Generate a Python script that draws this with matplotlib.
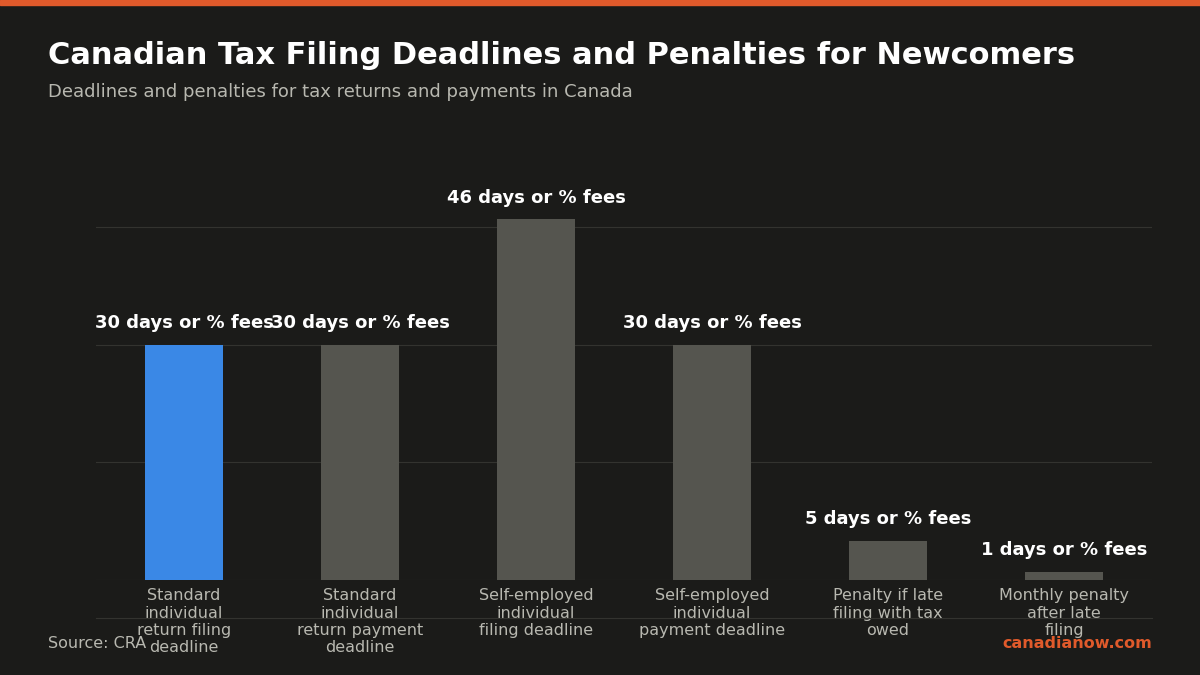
import matplotlib.pyplot as plt
from matplotlib.lines import Line2D
from matplotlib.patches import Rectangle

categories = [
    "Standard\nindividual\nreturn filing\ndeadline",
    "Standard\nindividual\nreturn payment\ndeadline",
    "Self-employed\nindividual\nfiling deadline",
    "Self-employed\nindividual\npayment deadline",
    "Penalty if late\nfiling with tax\nowed",
    "Monthly penalty\nafter late\nfiling",
]
values = [30, 30, 46, 30, 5, 1]
bar_labels = [f"{v} days or % fees" for v in values]

BG = "#1b1b19"
fig = plt.figure(figsize=(12, 6.75), dpi=100, facecolor=BG)
ax = fig.add_axes([0.08, 0.141, 0.88, 0.65], facecolor=BG)

colors = ["#3a88e6"] + ["#55554f"] * (len(values) - 1)
ax.bar(range(len(values)), values, width=0.44, color=colors, zorder=2)
for i, (v, t) in enumerate(zip(values, bar_labels)):
    ax.text(i, v + 1.6, t, ha="center", va="bottom", color="white",
            fontsize=13, fontweight="bold", zorder=3)

ax.set_xlim(-0.5, 5.5)
ax.set_ylim(0, 56)
ax.set_yticks([0, 15, 30, 45])
ax.yaxis.grid(True, color="#33332f", linewidth=0.8, zorder=0)
ax.tick_params(axis="y", length=0, labelleft=False)
ax.tick_params(axis="x", length=0, pad=6)
ax.set_xticks(range(len(values)))
ax.set_xticklabels(categories, color="#b8b8b0", fontsize=11.5, linespacing=1.2)
for s in ax.spines.values():
    s.set_visible(False)

fig.add_artist(Rectangle((0, 1 - 5 / 675), 1, 5 / 675, transform=fig.transFigure,
                         color="#e05a2b"))
fig.add_artist(Line2D([0.08, 0.96], [1 - 618 / 675] * 2, transform=fig.transFigure,
                      color="#33332f", linewidth=0.8))
fig.text(0.04, 1 - 56 / 675, "Canadian Tax Filing Deadlines and Penalties for Newcomers",
         color="white", fontsize=22, fontweight="bold", va="center")
fig.text(0.04, 1 - 92 / 675, "Deadlines and penalties for tax returns and payments in Canada",
         color="#b8b8b0", fontsize=13, va="center")
fig.text(0.04, 1 - 644 / 675, "Source: CRA", color="#b8b8b0", fontsize=11.5, va="center")
fig.text(0.96, 1 - 644 / 675, "canadianow.com", color="#e05a2b", fontsize=11.5,
         fontweight="bold", va="center", ha="right")

fig.savefig("out.png", facecolor=BG)
